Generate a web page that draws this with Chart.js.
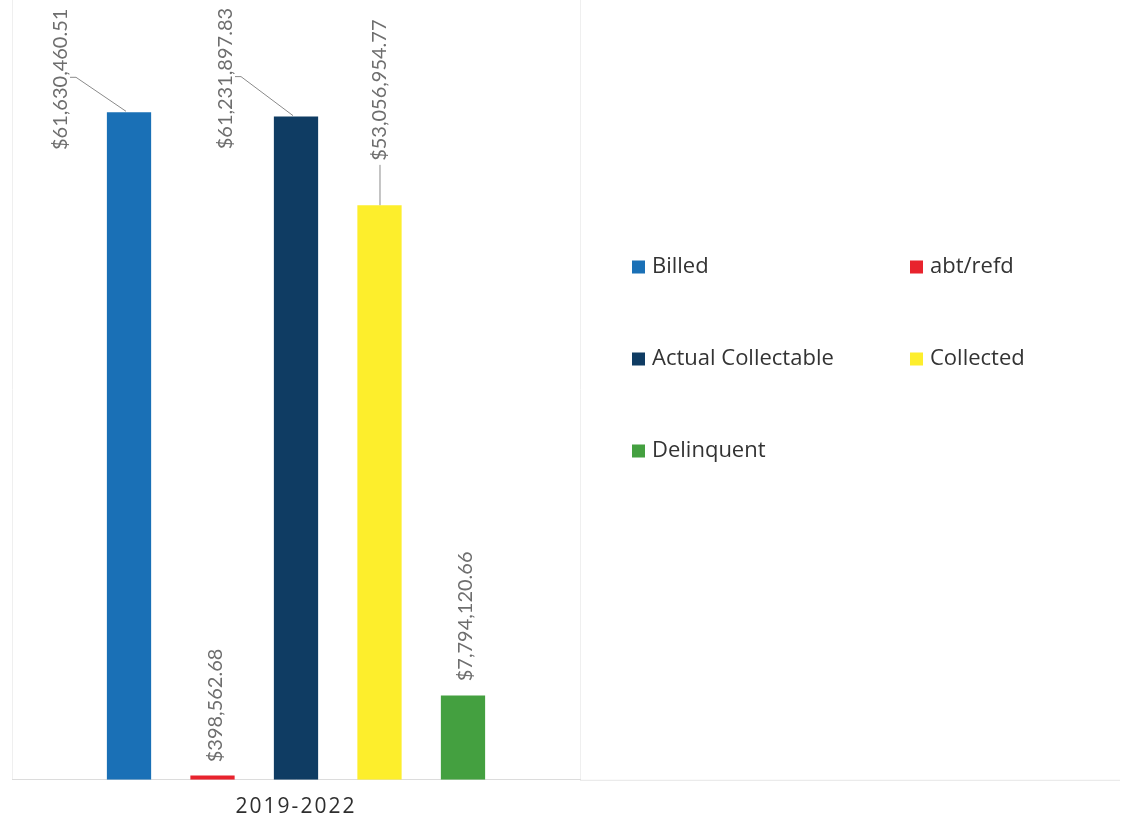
<!DOCTYPE html>
<html>
<head>
<meta charset="utf-8">
<script src="https://cdn.jsdelivr.net/npm/chart.js@4"></script>
<style>
  body { margin: 0; background: #fff; }
  #wrap { width: 1131px; height: 825px; }
</style>
</head>
<body>
<div id="wrap"><canvas id="myChart"></canvas></div>
<script>
const periods = ['2019-2022'];
const seriesNames = ['Billed', 'abt/refd', 'Actual Collectable', 'Collected', 'Delinquent'];
const billed = [61630460.51];
const abtRefd = [398562.68];
const actualCollectable = [61231897.83];
const collected = [53056954.77];
const delinquent = [7794120.66];

const COLORS = {
  billed: '#1a70b6',
  abt: '#e8232d',
  actual: '#0f3c63',
  collected: '#fdee2c',
  delinquent: '#44a040'
};

// where each value label sits relative to the top of its bar
const labelSpots = [
  { dx: -68, dy: -33, leader: 'elbow' },
  { dx: 3, dy: -70 },
  { dx: -70, dy: -38, leader: 'elbow' },
  { dx: 0, dy: -115, leader: 'straight' },
  { dx: 3, dy: -79 }
];

const money = (v) => '$' + v.toLocaleString('en-US', { minimumFractionDigits: 2, maximumFractionDigits: 2 });

const valueLabels = {
  id: 'valueLabels',
  beforeDraw(chart) {
    chart.ctx.letterSpacing = '2px';
  },
  beforeDatasetsDraw(chart) {
    const ctx = chart.ctx;
    ctx.letterSpacing = '0px';
    // baseline keeps running under the legend side
    const area = chart.chartArea;
    ctx.save();
    ctx.strokeStyle = '#e6e6e6';
    ctx.lineWidth = 1;
    ctx.beginPath();
    ctx.moveTo(area.right, area.bottom + 0.5);
    ctx.lineTo(1120, area.bottom + 0.5);
    ctx.stroke();
    ctx.restore();
  },
  afterDatasetsDraw(chart) {
    const ctx = chart.ctx;
    const fontSize = 20;
    ctx.save();
    ctx.font = fontSize + 'px Lato';
    ctx.fillStyle = '#6e6e6e';
    ctx.strokeStyle = '#8a8a8a';
    ctx.lineWidth = 1;
    chart.data.datasets.forEach((ds, i) => {
      const bar = chart.getDatasetMeta(i).data[0];
      const spot = labelSpots[i];
      const text = money(ds.data[0]);
      const cx = bar.x + spot.dx;
      const cy = bar.y + spot.dy;
      const w = ctx.measureText(text).width;

      ctx.save();
      ctx.translate(cx, cy);
      ctx.rotate(-Math.PI / 2);
      ctx.textAlign = 'center';
      ctx.textBaseline = 'middle';
      ctx.fillText(text, 0, 0);
      ctx.restore();

      if (spot.leader === 'elbow') {
        const sx = cx + fontSize * 0.45;
        ctx.beginPath();
        ctx.moveTo(sx, cy - 2);
        ctx.lineTo(sx + 6, cy - 2);
        ctx.lineTo(bar.x - 3, bar.y - 1);
        ctx.stroke();
      } else if (spot.leader === 'straight') {
        ctx.beginPath();
        ctx.moveTo(cx + 0.5, cy + w / 2 + 4);
        ctx.lineTo(cx + 0.5, bar.y);
        ctx.stroke();
      }
    });
    ctx.restore();
  },
  afterDraw(chart) {
    // two-column legend on the right
    const ctx = chart.ctx;
    const area = chart.chartArea;
    const cols = [area.right + 52, area.right + 330];
    const rows = [267, 359, 451];
    ctx.save();
    ctx.font = '22px "Open Sans"';
    ctx.textBaseline = 'middle';
    ctx.textAlign = 'left';
    chart.data.datasets.forEach((ds, i) => {
      const x = cols[i % 2];
      const y = rows[Math.floor(i / 2)];
      ctx.fillStyle = ds.backgroundColor;
      ctx.fillRect(x, y - 6.5, 13, 13);
      ctx.fillStyle = '#333333';
      ctx.fillText(seriesNames[i], x + 20, y);
    });
    ctx.restore();
  }
};

const ctx = document.getElementById('myChart');

const myChart = new Chart(ctx, {
  type: 'bar',
  data: {
    labels: periods,
    datasets: [
      { label: seriesNames[0], data: billed, backgroundColor: COLORS.billed },
      { label: seriesNames[1], data: abtRefd, backgroundColor: COLORS.abt },
      { label: seriesNames[2], data: actualCollectable, backgroundColor: COLORS.actual },
      { label: seriesNames[3], data: collected, backgroundColor: COLORS.collected },
      { label: seriesNames[4], data: delinquent, backgroundColor: COLORS.delinquent }
    ]
  },
  options: {
    responsive: true,
    maintainAspectRatio: false,
    animation: false,
    categoryPercentage: 0.735,
    barPercentage: 0.53,
    layout: {
      padding: { left: 12, right: 551, top: 0, bottom: -10 }
    },
    plugins: {
      legend: { display: false },
      tooltip: { enabled: false }
    },
    scales: {
      x: {
        grid: { color: '#efefef', drawTicks: false },
        border: { color: '#dcdcdc' },
        ticks: {
          color: '#2e2e2e',
          padding: 15,
          font: { family: 'Open Sans', size: 21 }
        }
      },
      y: {
        display: false,
        min: 0,
        max: 72000000
      }
    }
  },
  plugins: [valueLabels]
});
</script>
</body>
</html>
